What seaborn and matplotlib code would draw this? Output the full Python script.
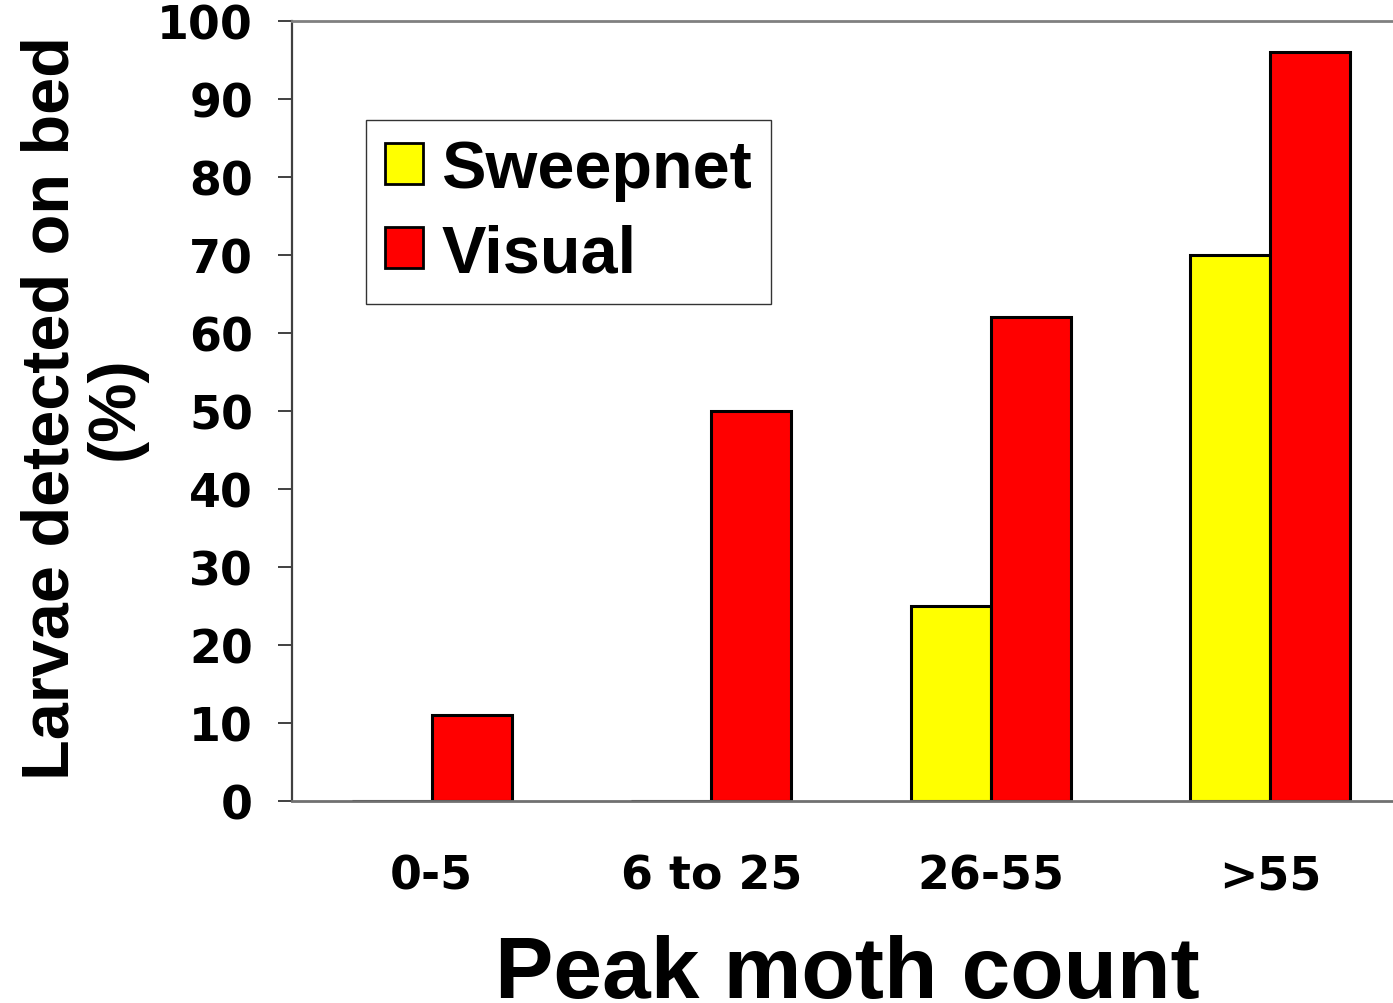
import matplotlib
matplotlib.use('Agg')
import matplotlib.pyplot as plt
import pandas as pd
import seaborn as sns
from matplotlib.ticker import FixedLocator

categories = ['0-5', '6 to 25', '26-55', '>55']
sweepnet = [0, 0, 25, 70]
visual = [11, 50, 62, 96]
series = ['Sweepnet', 'Visual']
colors = ['#FFFF00', '#FF0000']

df = pd.DataFrame({
    'count': categories * 2,
    'value': sweepnet + visual,
    'method': ['Sweepnet'] * len(categories) + ['Visual'] * len(categories),
})

sns.set_style('white')
plt.rcParams['font.family'] = ['DejaVu Sans']
plt.rcParams['text.color'] = 'black'
plt.rcParams['axes.labelcolor'] = 'black'
plt.rcParams['xtick.color'] = 'black'
plt.rcParams['ytick.color'] = 'black'

fig = plt.figure(figsize=(13.93, 10.04), dpi=100)
ax = fig.add_axes([292 / 1393, 1 - 802 / 1004, 1118 / 1393, 780 / 1004])

sns.barplot(data=df, x='count', y='value', hue='method', hue_order=series,
            palette=colors, width=0.572, gap=0, edgecolor='black', linewidth=2.2,
            saturation=1, ax=ax)

ax.set_xlim(-0.5, 3.5)
ax.set_ylim(0, 100)
ax.set_yticks(range(0, 101, 10))

ax.spines['right'].set_visible(False)
ax.spines['top'].set_color('#808080')
ax.spines['top'].set_linewidth(2)
ax.spines['bottom'].set_color('#707070')
ax.spines['bottom'].set_linewidth(2)
ax.spines['left'].set_color('#404040')
ax.spines['left'].set_linewidth(1.6)

ax.tick_params(axis='y', direction='out', length=10, width=1.4, color='#404040',
               pad=18, labelsize=33, labelcolor='black')
ax.tick_params(axis='x', which='major', length=0, pad=38, labelsize=33,
               labelcolor='black')
ax.xaxis.set_minor_locator(FixedLocator([-0.5, 0.5, 1.5, 2.5]))
ax.tick_params(axis='x', which='minor', direction='out', length=10, width=1.4,
               color='#404040')
ax.tick_params(left=True, bottom=True)
for lbl in ax.get_xticklabels() + ax.get_yticklabels():
    lbl.set_fontweight('bold')

ax.set_ylabel('Larvae detected on bed\n(%)', fontsize=48, fontweight='bold',
              family='Liberation Sans', linespacing=1.05, color='black')
ax.yaxis.set_label_coords(-0.13, 0.505)
ax.set_xlabel('Peak moth count', fontsize=63, fontweight='bold',
              family='Liberation Sans', color='black')
ax.xaxis.set_label_coords(0.497, -0.17)

leg = ax.legend(loc='upper left', bbox_to_anchor=(366 / 1393, 1 - 121 / 1004),
                bbox_transform=fig.transFigure, frameon=True, fancybox=False,
                prop={'family': 'Liberation Sans', 'weight': 'bold', 'size': 48},
                handlelength=0.57, handleheight=0.57, handletextpad=0.28,
                labelspacing=0.34, borderpad=0.28, borderaxespad=0)
leg.get_frame().set_edgecolor('black')
leg.get_frame().set_linewidth(1)
for h in leg.legend_handles:
    h.set_edgecolor('black')
    h.set_linewidth(2)
for t in leg.get_texts():
    t.set_color('black')

fig.savefig('out.png', dpi=100)
